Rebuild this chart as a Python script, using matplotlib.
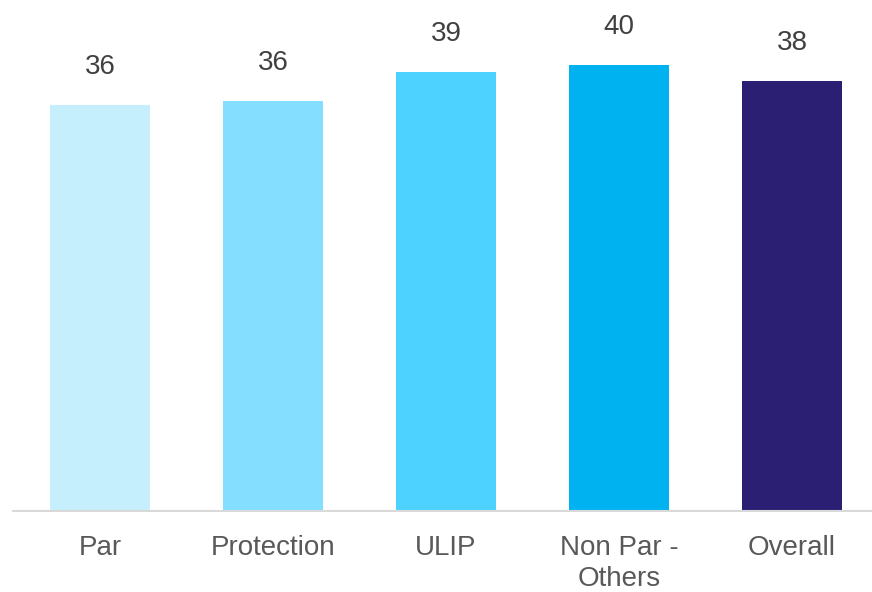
#! /usr/bin/env python3
import numpy as np
import matplotlib
matplotlib.use('Agg')
import matplotlib.pyplot as plt

plt.rcParams['font.family'] = ['Liberation Sans', 'DejaVu Sans']

categories = ['Par', 'Protection', 'ULIP', 'Non Par -\nOthers', 'Overall']
values = [36.1, 36.4, 39.0, 39.6, 38.2]
value_labels = ['36', '36', '39', '40', '38']
colors = ['#C6EFFD', '#84DEFF', '#4DD2FF', '#00B2F0', '#2A1F73']

fig = plt.figure(figsize=(8.72, 5.92), dpi=100)
ax = fig.add_axes([13/872, 1 - 511/592, 1 - 13/872, 511/592])

x = np.arange(len(categories))
bars = ax.bar(x, values, width=0.578, color=colors)

for xi, v, lab in zip(x, values, value_labels):
    ax.annotate(lab, (xi, v), xytext=(0, 27.3), textcoords='offset points',
                ha='center', va='center', fontsize=20, color='#404040')

ax.set_xlim(-0.503, 4.462)
ax.set_ylim(0, 45.4)
ax.set_xticks(x)
ax.set_xticklabels(categories, fontsize=20, color='#595959', linespacing=1.27)
ax.tick_params(axis='x', length=0, pad=17)
ax.set_yticks([])
for s in ['top', 'left', 'right']:
    ax.spines[s].set_visible(False)
ax.spines['bottom'].set_color('#d9d9d9')
ax.spines['bottom'].set_linewidth(1.5)
ax.patch.set_alpha(0)

plt.savefig('out.png', dpi=100)
